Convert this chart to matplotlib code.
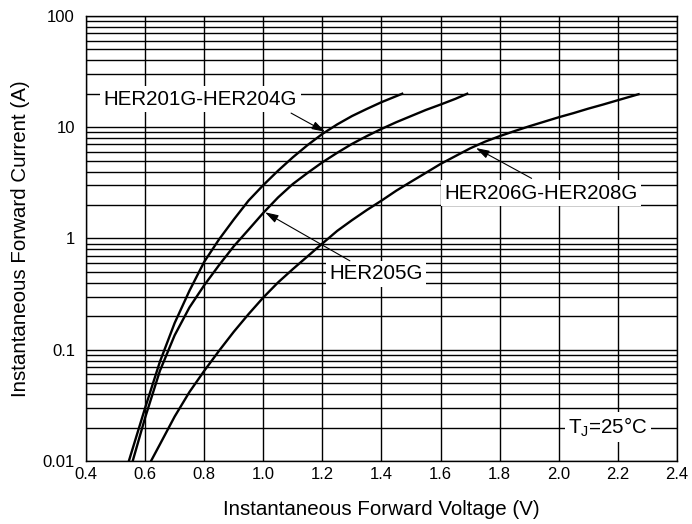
import numpy as np
import matplotlib as mpl
mpl.use('Agg')
import matplotlib.pyplot as plt
from matplotlib.ticker import FixedLocator, NullFormatter, LogLocator

plt.rcParams['font.family'] = ['Liberation Sans', 'DejaVu Sans']

# curves (V, A)
v_201 = [0.545, 0.6, 0.65, 0.7, 0.75, 0.8, 0.85, 0.9, 0.95, 1.0, 1.05, 1.1, 1.15,
         1.2, 1.25, 1.3, 1.35, 1.4, 1.47]
i_201 = [0.010, 0.030, 0.078, 0.174, 0.339, 0.617, 0.98, 1.48, 2.19, 3.02, 4.07,
         5.37, 6.92, 8.71, 10.6, 12.6, 14.6, 16.8, 20.0]
v_205 = [0.558, 0.6, 0.65, 0.7, 0.75, 0.8, 0.85, 0.9, 0.95, 1.0, 1.05, 1.1, 1.15,
         1.2, 1.25, 1.3, 1.35, 1.4, 1.45, 1.5, 1.55, 1.6, 1.65, 1.69]
i_205 = [0.010, 0.0245, 0.0646, 0.135, 0.240, 0.380, 0.575, 0.851, 1.20, 1.70,
         2.34, 3.09, 3.89, 4.84, 5.89, 7.08, 8.32, 9.66, 11.1, 12.6, 14.3, 16.0,
         18.0, 20.0]
v_206 = [0.62, 0.65, 0.7, 0.75, 0.8, 0.85, 0.9, 0.95, 1.0, 1.05, 1.1, 1.15, 1.2,
         1.25, 1.3, 1.35, 1.4, 1.45, 1.5, 1.55, 1.6, 1.65, 1.7, 1.75, 1.8, 1.85,
         1.9, 1.95, 2.0, 2.05, 2.1, 2.15, 2.2, 2.27]
i_206 = [0.010, 0.0141, 0.0251, 0.0417, 0.0646, 0.0977, 0.145, 0.209, 0.295,
         0.403, 0.531, 0.692, 0.902, 1.17, 1.46, 1.80, 2.19, 2.69, 3.24, 3.89,
         4.68, 5.50, 6.46, 7.41, 8.32, 9.23, 10.2, 11.2, 12.3, 13.4, 14.7, 16.0,
         17.5, 19.8]

x_ticks = [0.4, 0.6, 0.8, 1.0, 1.2, 1.4, 1.6, 1.8, 2.0, 2.2, 2.4]
y_ticks = [0.01, 0.1, 1, 10, 100]
y_labels = ['0.01', '0.1', '1', '10', '100']

fig = plt.figure(figsize=(6.92, 5.24), dpi=100)
ax = fig.add_axes([0.1243, 0.1202, 0.854, 0.8493])

ax.set_yscale('log')
ax.set_xlim(0.4, 2.4)
ax.set_ylim(0.01, 100)

for v, i in [(v_201, i_201), (v_205, i_205), (v_206, i_206)]:
    ax.plot(v, i, color='black', lw=1.7, zorder=3, solid_joinstyle='round')

ax.set_xticks(x_ticks)
ax.set_xticklabels(['%.1f' % x for x in x_ticks])
ax.yaxis.set_major_locator(FixedLocator(y_ticks))
ax.set_yticklabels(y_labels)
ax.yaxis.set_minor_locator(LogLocator(base=10, subs=np.arange(2, 10)))
ax.yaxis.set_minor_formatter(NullFormatter())
ax.tick_params(which='both', length=0, labelsize=12)
ax.tick_params(axis='x', pad=4)
ax.tick_params(axis='y', pad=8)

ax.grid(True, which='major', color='black', lw=1.0)
ax.grid(True, which='minor', axis='y', color='black', lw=1.0)
for s in ax.spines.values():
    s.set_linewidth(1.0)

ax.set_xlabel('Instantaneous Forward Voltage (V)', fontsize=14.8, labelpad=13)
ax.set_ylabel('Instantaneous Forward Current (A)', fontsize=14.8, labelpad=9)

box = dict(facecolor='white', edgecolor='none', pad=2.5)
arrow = dict(arrowstyle='-|>,head_length=0.8,head_width=0.25', color='black',
             lw=0.8, mutation_scale=10, shrinkA=0, shrinkB=0)

ax.text(0.787, 17.8, 'HER201G-HER204G', fontsize=14.8, ha='center', va='center',
        bbox=box, zorder=4)
ax.annotate('', xy=(1.209, 9.1), xytext=(1.094, 13.4), arrowprops=arrow, zorder=4)

ax.text(1.381, 0.48, 'HER205G', fontsize=14.8, ha='center', va='center',
        bbox=box, zorder=4)
ax.annotate('', xy=(1.006, 1.72), xytext=(1.293, 0.63), arrowprops=arrow, zorder=4)

ax.text(1.939, 2.55, 'HER206G-HER208G', fontsize=14.8, ha='center', va='center',
        bbox=box, zorder=4)
ax.annotate('', xy=(1.72, 6.5), xytext=(1.908, 3.47), arrowprops=arrow, zorder=4)

ax.text(2.167, 0.0203, r'T$_\mathregular{J}$=25°C', fontsize=14.8, ha='center',
        va='center', bbox=box, zorder=4)

fig.savefig('out.png', dpi=100)
